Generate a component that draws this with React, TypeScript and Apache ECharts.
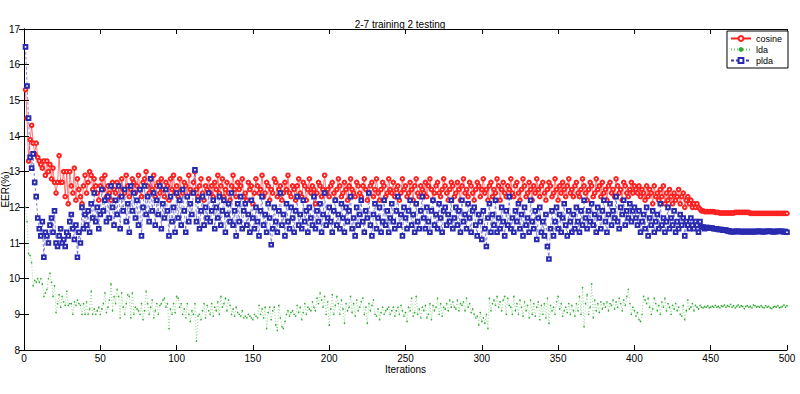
import React, { useEffect, useRef } from "react";
import * as echarts from "echarts";

const TITLE = "2-7 training 2 testing";
const X_NAME = "Iterations";
const Y_NAME = "EER(%)";
const SERIES_NAMES = ["cosine", "lda", "plda"];

const cosine: number[] = [
  15.3,14.5,13.3,13.9,14.3,13.8,13.5,13.8,13.4,13.3,13.2,13.1,13.3,12.9,13.3,13.0,13.2,12.8,13.1,12.7,
  12.4,12.7,13.45,12.7,12.7,13.0,12.3,13.0,12.1,13.0,12.6,12.4,13.1,12.2,12.8,12.5,12.3,12.1,12.6,12.9,
  12.4,12.7,13.0,12.9,12.5,12.8,12.6,12.4,12.2,12.6,12.8,12.5,12.9,12.3,12.6,12.4,12.2,12.7,12.5,12.4,
  12.7,12.6,12.3,12.8,12.5,12.4,12.9,12.6,12.3,12.5,12.8,12.7,12.4,12.6,12.9,12.5,12.3,12.7,12.8,13.0,
  12.6,12.4,12.8,12.5,12.9,12.3,12.6,12.7,12.4,12.8,12.5,12.3,12.7,12.6,12.2,12.8,12.5,12.9,12.4,12.6,
  12.3,12.8,12.5,12.4,12.7,12.6,12.3,12.9,12.5,12.4,12.7,13.0,12.5,12.3,12.6,12.8,12.4,12.2,12.6,12.5,
  12.8,12.4,12.6,12.3,12.7,12.5,12.9,12.4,12.6,12.8,12.3,12.5,12.7,12.4,12.2,12.6,12.9,12.5,12.3,12.7,
  12.5,12.6,12.8,12.3,12.4,12.2,12.7,12.5,12.6,12.1,12.4,12.8,12.6,12.4,12.5,12.9,12.3,12.4,12.7,12.6,
  12.2,12.5,12.4,12.8,12.7,12.3,12.5,12.6,12.2,12.4,12.7,12.5,12.9,12.4,12.3,12.6,12.5,12.2,12.6,12.8,
  12.4,12.3,12.7,12.6,12.2,12.5,12.8,12.4,12.6,12.5,12.1,12.4,12.7,12.6,12.3,12.5,12.9,12.4,12.5,12.3,
  12.6,12.7,12.4,12.2,12.5,12.8,12.6,12.3,12.4,12.7,12.5,12.2,12.6,12.8,12.5,12.4,12.3,12.7,12.6,12.4,
  12.3,12.6,12.8,12.5,12.2,12.4,12.6,12.7,12.3,12.5,12.8,12.4,12.2,12.5,12.7,12.6,12.3,12.4,12.8,12.5,
  12.4,12.7,12.3,12.5,12.6,12.2,12.4,12.8,12.5,12.6,12.3,12.4,12.7,12.5,12.2,12.6,12.8,12.4,12.3,12.6,
  12.5,12.4,12.7,12.3,12.6,12.8,12.5,12.2,12.4,12.6,12.7,12.4,12.3,12.5,12.8,12.6,12.4,12.2,12.5,12.7,
  12.6,12.3,12.4,12.7,12.5,12.2,12.6,12.8,12.4,12.5,12.3,12.7,12.6,12.4,12.2,12.5,12.7,12.6,12.3,12.5,
  12.8,12.4,12.5,12.2,12.6,12.7,12.3,12.5,12.4,12.8,12.6,12.2,12.5,12.7,12.4,12.3,12.6,12.5,12.8,12.4,
  12.3,12.6,12.7,12.4,12.2,12.5,12.8,12.6,12.3,12.4,12.7,12.5,12.2,12.6,12.4,12.8,12.5,12.3,12.6,12.7,
  12.4,12.2,12.5,12.7,12.6,12.3,12.4,12.8,12.5,12.2,12.6,12.4,12.7,12.5,12.3,12.6,12.8,12.4,12.5,12.3,
  12.6,12.7,12.4,12.3,12.5,12.8,12.6,12.4,12.2,12.5,12.7,12.6,12.3,12.4,12.8,12.5,12.6,12.3,12.7,12.4,
  12.5,12.2,12.6,12.7,12.4,12.5,12.3,12.8,12.6,12.4,12.5,12.2,12.7,12.6,12.4,12.3,12.5,12.7,12.4,12.6,
  12.5,12.4,12.6,12.3,12.5,12.4,12.2,12.6,12.3,12.5,12.4,12.1,12.6,12.3,12.4,12.2,12.5,12.3,12.6,12.1,
  12.4,12.2,12.5,12.3,12.1,12.4,12.2,12.3,12.5,12.1,12.3,12.4,12.0,12.2,12.3,12.1,12.2,12.0,12.1,12.0,
  12.1,12.0,11.95,11.9,11.9,11.88,11.88,11.88,11.88,11.88,11.88,11.88,11.86,11.86,11.86,11.84,11.84,11.84,11.84,11.84,
  11.84,11.84,11.84,11.84,11.84,11.86,11.86,11.86,11.86,11.86,11.86,11.86,11.86,11.86,11.86,11.83,11.83,11.83,11.83,11.83,
  11.83,11.83,11.83,11.83,11.83,11.83,11.83,11.83,11.83,11.83,11.83,11.83,11.83,11.83,11.83,11.83,11.83,11.83,11.83,11.83,
];

const lda: number[] = [
  12.0,11.6,10.7,10.65,10.45,9.8,9.95,9.9,10.0,9.9,10.0,9.85,9.5,9.6,9.7,10.0,10.15,9.9,9.5,9.8,
  9.05,9.3,9.55,9.2,9.5,9.35,9.25,9.65,9.25,9.3,9.3,9.0,9.35,9.25,9.4,9.3,9.25,9.0,9.3,9.0,
  9.35,9.0,9.15,9.65,9.0,9.15,9.0,9.1,9.2,9.0,9.15,9.3,9.6,9.05,9.2,9.4,9.85,9.1,9.5,9.3,
  9.7,9.5,8.9,9.6,9.2,9.0,9.3,9.55,9.5,8.9,9.6,9.0,9.2,9.15,9.1,9.0,9.3,8.85,9.1,9.65,
  9.3,9.0,9.2,9.4,8.9,9.1,9.3,9.0,9.25,9.3,9.4,9.45,9.2,9.3,8.6,9.15,9.0,9.3,9.05,9.5,
  9.45,9.2,9.3,9.0,9.15,8.9,9.3,9.0,8.8,9.1,9.0,9.3,8.25,8.95,9.0,8.85,9.1,9.3,8.9,9.25,
  9.1,9.0,9.3,8.95,9.2,9.1,9.35,9.0,9.5,9.2,9.3,9.45,9.1,9.4,9.25,9.0,9.15,8.95,9.2,9.05,
  9.0,8.95,9.1,8.9,8.95,8.9,9.0,8.95,8.9,8.85,9.0,8.95,8.9,9.25,9.0,9.15,8.9,9.2,8.6,9.05,
  9.2,8.85,9.1,9.2,8.7,8.55,9.25,8.9,8.65,8.6,8.8,9.0,9.1,8.95,9.05,9.1,9.0,8.95,9.25,9.05,
  9.2,8.85,9.05,9.3,9.0,9.2,9.15,9.1,9.35,9.2,9.1,9.45,9.3,9.6,9.4,9.2,9.5,9.0,9.35,8.7,
  9.15,9.55,9.0,9.25,9.5,9.3,9.0,9.4,9.15,8.75,9.3,9.1,9.2,9.5,9.05,9.3,8.95,9.4,9.1,9.2,
  9.35,9.45,9.0,9.2,8.75,9.3,9.1,9.25,9.4,9.0,8.95,9.15,8.85,9.05,9.2,9.0,9.1,9.15,9.2,9.0,
  9.1,9.2,8.95,9.1,9.2,9.0,9.25,9.1,8.95,9.05,8.8,9.2,9.1,9.45,8.95,9.05,9.5,9.0,9.15,8.9,
  9.2,9.1,9.25,8.9,9.0,9.3,8.85,9.25,9.1,9.2,9.45,9.0,9.3,8.95,9.2,9.15,9.3,9.1,9.4,9.2,
  9.35,9.2,9.15,9.4,9.1,9.3,9.25,9.35,9.1,9.45,9.2,9.3,9.05,9.15,9.0,8.9,8.95,8.7,9.05,8.8,
  8.9,8.75,9.0,8.6,9.45,9.1,9.3,9.4,9.25,9.5,9.2,9.35,9.1,9.4,9.5,9.0,9.45,9.25,9.2,9.0,
  9.5,9.1,9.3,9.0,9.4,9.2,8.95,9.35,9.1,9.25,8.9,9.4,9.0,9.3,8.95,9.2,9.35,8.85,9.25,9.0,
  9.3,8.9,9.45,8.75,9.25,9.1,9.2,9.0,9.35,9.5,9.15,9.3,8.95,9.1,9.2,9.05,9.3,9.0,9.25,9.1,
  8.95,9.3,9.1,9.5,9.0,9.75,8.65,9.3,9.55,9.0,9.2,9.85,8.9,9.4,9.1,9.3,9.05,9.35,9.15,9.3,
  9.2,9.35,9.1,9.3,9.25,9.4,9.15,9.35,9.2,9.45,9.3,9.1,9.4,9.25,9.5,9.7,9.3,9.0,9.2,9.1,
  8.95,9.05,8.85,8.8,9.0,9.5,9.4,9.3,9.45,9.2,9.0,9.15,9.45,9.3,9.1,9.25,9.0,9.35,9.2,9.45,
  9.1,9.3,9.2,9.0,9.25,9.15,9.3,9.1,9.2,9.0,8.95,9.25,8.85,9.1,9.4,9.15,9.2,9.3,9.1,9.25,
  9.2,9.15,9.25,9.2,9.18,9.22,9.2,9.24,9.18,9.2,9.23,9.2,9.25,9.2,9.22,9.18,9.24,9.22,9.26,9.2,
  9.24,9.22,9.28,9.2,9.24,9.18,9.22,9.26,9.2,9.24,9.22,9.16,9.22,9.24,9.2,9.22,9.18,9.26,9.24,9.2,
  9.22,9.2,9.24,9.2,9.18,9.24,9.2,9.22,9.18,9.16,9.2,9.22,9.2,9.24,9.18,9.2,9.22,9.26,9.2,9.24,
];

const plda: number[] = [
  16.5,15.4,14.5,13.4,13.1,13.5,12.7,12.3,11.7,11.4,11.2,11.6,10.6,11.3,11.2,11.0,11.5,11.7,11.3,11.9,
  11.0,10.9,11.2,11.4,11.0,11.1,10.9,11.3,11.2,11.6,11.8,11.4,11.1,11.5,10.6,11.3,11.0,12.0,11.4,11.8,
  11.5,11.9,11.3,12.1,11.7,12.4,11.6,12.0,11.4,11.8,12.5,11.9,12.2,11.6,12.3,11.7,12.6,12.0,11.5,12.2,
  11.8,12.6,11.4,12.3,11.9,12.5,11.6,12.1,11.3,12.6,11.9,12.4,11.7,12.2,11.5,12.5,11.2,12.0,12.6,11.8,
  12.3,11.6,12.8,11.9,12.4,11.5,12.2,11.8,12.6,11.4,12.1,11.7,12.5,11.9,11.2,12.3,11.6,12.0,11.3,12.4,
  11.7,12.2,11.5,12.5,11.9,11.3,12.3,11.6,12.1,11.8,12.4,13.05,11.6,12.2,11.4,11.9,12.3,11.5,12.0,11.7,
  12.4,11.6,11.9,12.2,11.4,12.0,11.7,12.3,11.5,11.9,12.2,11.3,11.8,12.1,11.6,12.4,11.5,11.9,11.2,12.1,
  11.6,12.3,11.4,11.9,12.1,11.5,11.8,11.3,12.2,11.7,11.4,12.0,11.6,11.2,11.9,12.3,11.5,11.8,11.3,12.1,
  11.7,10.95,11.4,12.0,11.6,11.3,11.9,12.4,11.5,11.8,11.2,12.1,11.6,11.4,12.0,11.7,11.3,11.9,12.3,11.5,
  11.8,11.4,12.2,11.6,11.9,11.3,12.0,11.7,11.5,12.3,11.4,11.9,11.6,12.1,11.3,11.8,12.4,11.5,11.7,12.0,
  11.6,11.3,11.9,12.2,11.5,11.8,11.4,12.1,11.7,11.3,12.0,11.6,11.9,12.3,11.4,11.7,11.2,12.0,11.5,11.8,
  12.2,11.6,11.3,11.9,11.7,12.4,11.5,11.2,11.8,12.1,11.4,11.7,12.0,11.3,11.6,12.2,11.5,11.9,11.3,11.7,
  12.1,11.6,11.4,11.9,12.3,11.5,11.8,11.2,12.0,11.7,11.4,11.9,12.2,11.5,11.8,11.3,12.1,11.6,11.4,11.9,
  12.3,11.7,11.4,12.0,11.6,11.3,11.9,12.2,11.5,11.8,11.4,12.1,11.7,11.3,11.9,12.0,11.5,11.8,11.6,12.2,
  11.4,11.7,12.0,11.5,11.9,11.3,12.2,11.6,11.8,11.4,12.1,11.7,11.3,11.9,12.0,11.5,11.2,11.8,11.6,11.1,
  11.9,11.4,10.9,11.7,12.1,11.3,11.8,11.5,12.2,11.3,11.7,11.4,12.0,11.6,11.2,11.9,11.5,12.3,11.4,11.7,
  11.3,11.9,11.6,12.1,11.4,11.8,11.2,12.0,11.5,11.7,11.3,12.2,11.6,11.4,11.9,11.1,11.7,12.0,11.3,11.6,
  11.2,11.8,10.9,10.55,11.4,11.9,11.2,11.6,12.0,11.4,11.8,11.3,11.7,12.1,11.5,11.2,11.9,11.6,11.3,11.8,
  11.4,12.0,11.6,11.3,11.9,11.5,12.2,11.7,11.4,11.9,11.6,12.1,11.5,11.8,11.3,12.0,11.7,11.4,11.9,12.2,
  11.6,11.3,11.8,12.1,11.5,11.9,11.7,12.3,11.6,11.4,12.0,11.8,12.2,11.5,11.9,11.7,12.1,11.6,11.9,12.0,
  11.7,11.5,11.9,11.3,11.6,11.8,11.4,12.0,11.2,11.7,11.5,11.9,11.3,11.6,11.8,11.4,12.1,11.5,11.7,11.3,
  11.6,12.0,11.4,11.7,11.5,11.9,11.3,11.6,11.4,11.8,11.5,11.7,11.2,11.6,11.5,11.4,11.7,11.5,11.4,11.6,
  11.5,11.3,11.6,11.45,11.45,11.4,11.43,11.43,11.42,11.42,11.42,11.4,11.4,11.4,11.38,11.38,11.38,11.36,11.36,11.36,
  11.34,11.34,11.32,11.32,11.32,11.32,11.33,11.33,11.32,11.32,11.32,11.32,11.32,11.32,11.32,11.32,11.32,11.32,11.32,11.32,
  11.33,11.33,11.32,11.32,11.32,11.32,11.33,11.33,11.33,11.32,11.32,11.32,11.32,11.33,11.33,11.33,11.32,11.32,11.32,11.3,
];

const X_MIN = 0;
const X_MAX = 500;
const X_STEP = 50;
const Y_MIN = 8;
const Y_MAX = 17;
const Y_STEP = 1;

const FONT = "'Liberation Sans', Arial, sans-serif";

const toPairs = (arr: number[]) => arr.map((v, i) => [i + 1, v]);

export default function App() {
  const ref = useRef<HTMLDivElement>(null);
  useEffect(() => {
    if (!ref.current) return;
    const chart = echarts.init(ref.current, undefined, { renderer: "svg" });
    const axisCommon = {
      axisLine: { show: true, lineStyle: { color: "#000", width: 1 } },
      axisTick: { show: true, inside: true, length: 5, lineStyle: { color: "#000" } },
      splitLine: { show: false },
    };
    chart.setOption({
      animation: false,
      backgroundColor: "#fff",
      textStyle: { fontFamily: FONT },
      title: {
        text: TITLE,
        left: "center",
        top: 14,
        textStyle: { fontSize: 10, fontWeight: "normal", color: "#000", fontFamily: FONT },
      },
      legend: {
        data: SERIES_NAMES,
        orient: "vertical",
        right: 12,
        top: 31,
        backgroundColor: "#fff",
        borderColor: "#000",
        borderWidth: 1,
        padding: [3, 6, 3, 3],
        itemGap: 2,
        itemWidth: 20,
        itemHeight: 6,
        textStyle: { fontSize: 9, color: "#000", fontFamily: FONT },
      },
      grid: {
        left: 24,
        right: 13,
        top: 29,
        bottom: 44,
        containLabel: false,
        outerBoundsMode: "none",
      },
      xAxis: [
        {
          type: "value",
          min: X_MIN,
          max: X_MAX,
          interval: X_STEP,
          ...axisCommon,
          axisLabel: { fontSize: 10, color: "#000", margin: 3, fontFamily: FONT },
          name: X_NAME,
          nameLocation: "middle",
          nameGap: 14,
          nameMoveOverlap: false,
          nameTextStyle: { fontSize: 10, color: "#000", fontFamily: FONT },
        },
        {
          type: "value",
          position: "top",
          min: X_MIN,
          max: X_MAX,
          interval: X_STEP,
          ...axisCommon,
          axisLabel: { show: false },
        },
      ],
      yAxis: [
        {
          type: "value",
          min: Y_MIN,
          max: Y_MAX,
          interval: Y_STEP,
          ...axisCommon,
          axisLabel: { fontSize: 10, color: "#000", margin: 4, fontFamily: FONT },
          name: Y_NAME,
          nameLocation: "middle",
          nameRotate: 90,
          nameGap: 14,
          nameMoveOverlap: false,
          nameTextStyle: { fontSize: 10, color: "#000", fontFamily: FONT },
        },
        {
          type: "value",
          position: "right",
          min: Y_MIN,
          max: Y_MAX,
          interval: Y_STEP,
          ...axisCommon,
          axisLabel: { show: false },
        },
      ],
      series: [
        {
          name: "cosine",
          type: "line",
          data: toPairs(cosine),
          symbol: "emptyCircle",
          symbolSize: 3.6,
          showAllSymbol: true,
          color: "#ff2020",
          lineStyle: { width: 0.6, color: "#ff2020" },
          itemStyle: { color: "#ff2020", borderColor: "#ee2020", borderWidth: 0.7 },
        },
        {
          name: "lda",
          type: "line",
          data: toPairs(lda),
          symbol: "circle",
          symbolSize: 1.6,
          showAllSymbol: true,
          color: "#33bb33",
          lineStyle: { width: 0.7, type: [1, 2], color: "#66cc66" },
          itemStyle: { color: "#33aa33" },
        },
        {
          name: "plda",
          type: "line",
          data: toPairs(plda),
          symbol: "emptyRect",
          symbolSize: 3.6,
          showAllSymbol: true,
          color: "#2a2ab0",
          lineStyle: { width: 0.6, type: [3, 2], color: "#3a3ab8" },
          itemStyle: { color: "#2a2ab0", borderColor: "#2a2ab0", borderWidth: 0.7 },
        },
      ],
    });
    return () => chart.dispose();
  }, []);
  return (
    <div
      ref={ref}
      style={{ position: "fixed", left: 0, top: 0, width: 800, height: 394 }}
    />
  );
}
